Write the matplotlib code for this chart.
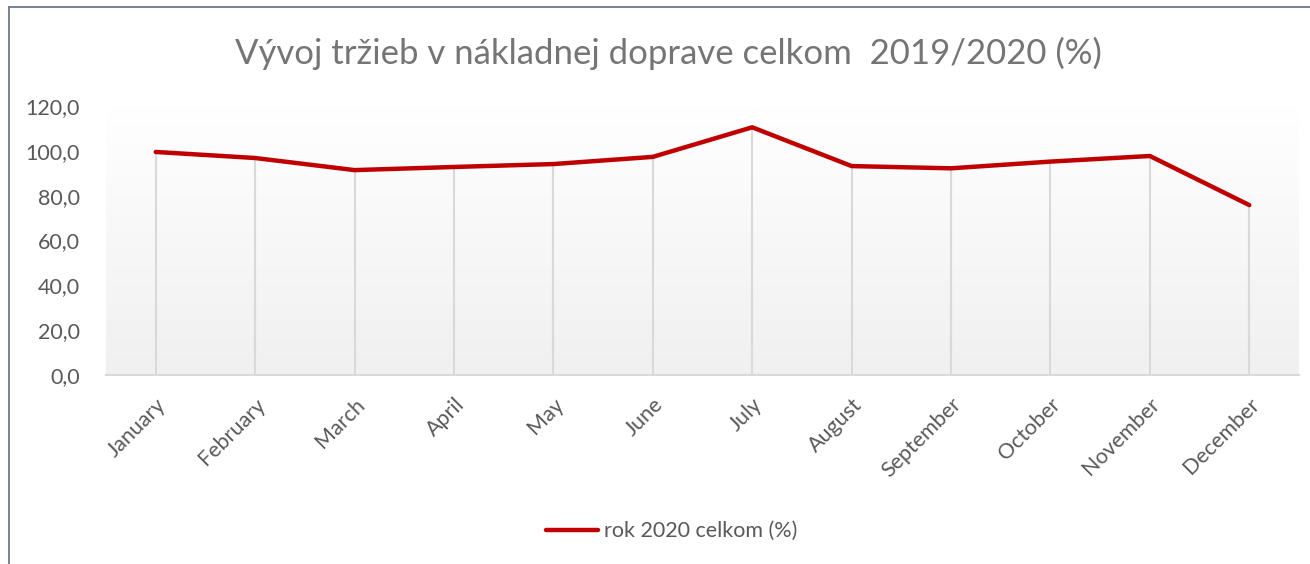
import matplotlib
matplotlib.use('Agg')
import matplotlib.pyplot as plt
import numpy as np
from matplotlib.lines import Line2D

months = ['January', 'February', 'March', 'April', 'May', 'June',
          'July', 'August', 'September', 'October', 'November', 'December']
values = [99.5, 96.8, 91.4, 92.8, 94.1, 97.3, 110.5, 93.2, 92.2, 95.2, 97.7, 75.8]
y_ticks = [0, 20, 40, 60, 80, 100, 120]
series_name = 'rok 2020 celkom (%)'
title = 'Vývoj tržieb v nákladnej doprave celkom  2019/2020 (%)'

plt.rcParams['font.family'] = ['Lato', 'DejaVu Sans']

fig = plt.figure(figsize=(13.1, 5.64), dpi=100)
ax = fig.add_axes([106 / 1310, 1 - 375 / 564, 1193 / 1310, 269 / 564])

x = np.arange(len(months))
ax.set_xlim(-0.5, len(months) - 0.5)
ax.set_ylim(0, 120)

# gradient fill of the plot area (white at top, light grey at bottom)
grad = np.linspace(0, 1, 256).reshape(-1, 1)
ax.imshow(grad, extent=(-0.5, len(months) - 0.5, 0, 120), aspect='auto',
          cmap=matplotlib.colors.LinearSegmentedColormap.from_list(
              'bg', ['#f0f0f0', '#ffffff']),
          origin='lower', zorder=0)

# drop lines
ax.vlines(x, 0, values, colors='#d9d9d9', linewidth=1.5, zorder=1)
ax.plot(x, values, color='#c00000', linewidth=3.2, solid_capstyle='round',
        solid_joinstyle='round', zorder=3)

for s in ['top', 'right', 'left']:
    ax.spines[s].set_visible(False)
ax.spines['bottom'].set_color('#d9d9d9')
ax.spines['bottom'].set_linewidth(1.5)

ax.set_yticks(y_ticks)
ax.set_yticklabels([f'{v:.1f}'.replace('.', ',') for v in y_ticks])
ax.set_xticks(x)
ax.set_xticklabels(months, rotation=45, ha='right', rotation_mode='anchor')
ax.tick_params(axis='both', length=0, colors='#595959', labelsize=15.5)
ax.tick_params(axis='y', pad=19)
ax.tick_params(axis='x', pad=14)

fig.text(0.51, 0.906, title, ha='center', va='center', fontsize=25,
         color='#757575')

handle = Line2D([], [], color='#c00000', linewidth=3.2, solid_capstyle='round')
fig.legend([handle], [series_name], loc='center', bbox_to_anchor=(0.513, 0.058),
           frameon=False, fontsize=15.5, labelcolor='#595959', handlelength=2.4,
           handletextpad=0.3)

# outer border (left and top visible)
fig.add_artist(Line2D([9 / 1310, 9 / 1310], [0, 1 - 7 / 564],
                      transform=fig.transFigure, color='#6b7a8f', linewidth=1.3))
fig.add_artist(Line2D([9 / 1310, 1], [1 - 7 / 564, 1 - 7 / 564],
                      transform=fig.transFigure, color='#6b7a8f', linewidth=1.3))

fig.savefig('out.png', dpi=100)
